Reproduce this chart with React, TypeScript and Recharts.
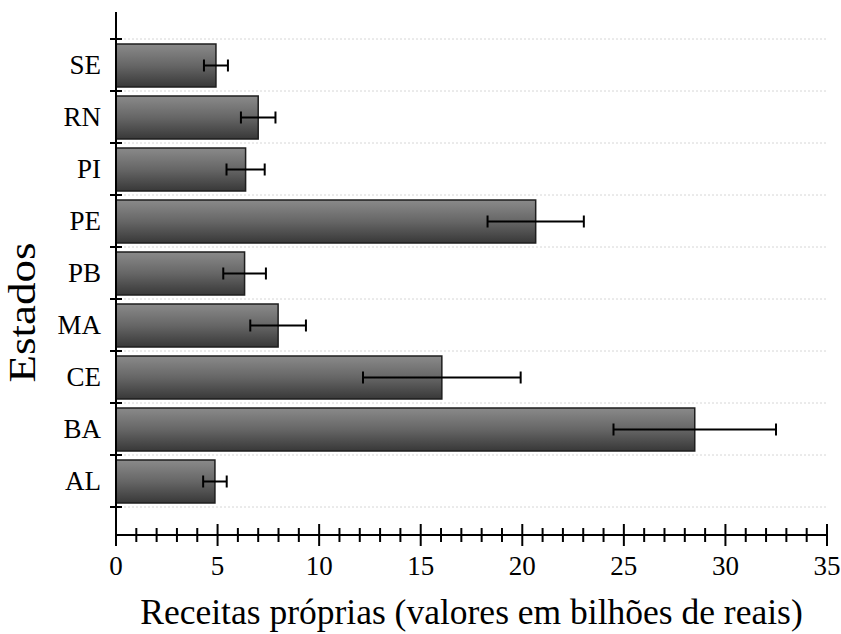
import { BarChart, Bar, XAxis, YAxis, ErrorBar, ReferenceLine } from 'recharts';

const states = ['SE', 'RN', 'PI', 'PE', 'PB', 'MA', 'CE', 'BA', 'AL'];
const receitas = [4.92, 7.0, 6.38, 20.66, 6.33, 7.98, 16.04, 28.49, 4.87];
const desvios = [0.59, 0.85, 0.94, 2.37, 1.05, 1.37, 3.88, 4.0, 0.58];
const majorTicks = [0, 5, 10, 15, 20, 25, 30, 35];
const allTicks = [
  0, 1, 2, 3, 4, 5, 6, 7, 8, 9, 10, 11, 12, 13, 14, 15, 16, 17,
  18, 19, 20, 21, 22, 23, 24, 25, 26, 27, 28, 29, 30, 31, 32, 33, 34, 35,
];

const data = states.map((s, i) => ({ estado: s, valor: receitas[i], erro: desvios[i] }));

const FONT = '"Liberation Serif", "Times New Roman", serif';

// ticks that cross the axis line, labels only on the major ones
const XTick = ({ x, y, payload }: any) => {
  const major = majorTicks.includes(payload.value);
  const len = major ? 11 : 7;
  return (
    <g>
      <line x1={x} x2={x} y1={y - len} y2={y + len} stroke="#000" strokeWidth={2} />
      {major && (
        <text x={x} y={y + 40} textAnchor="middle" fontSize={27} fontFamily={FONT} fill="#000">
          {payload.value}
        </text>
      )}
    </g>
  );
};

// category labels in the middle, tick marks on the band edges
const YTick = ({ x, y, payload, index, visibleTicksCount }: any) => {
  const half = payload.offset || 26;
  const last = index === visibleTicksCount - 1;
  return (
    <g>
      <line x1={x - 6} x2={x + 6} y1={y - half} y2={y - half} stroke="#000" strokeWidth={2} />
      {last && <line x1={x - 6} x2={x + 6} y1={y + half} y2={y + half} stroke="#000" strokeWidth={2} />}
      <text x={x - 15} y={y + 9} textAnchor="end" fontSize={27} fontFamily={FONT} fill="#000">
        {payload.value}
      </text>
    </g>
  );
};

const YLabel = ({ viewBox }: any) => {
  const cx = 35;
  const cy = viewBox.y + viewBox.height / 2 + 39;
  return (
    <text
      x={cx}
      y={cy}
      transform={`rotate(-90, ${cx}, ${cy})`}
      textAnchor="middle"
      fontSize={37}
      textLength={140}
      lengthAdjust="spacingAndGlyphs"
      fontFamily={FONT}
      fill="#000"
    >
      Estados
    </text>
  );
};

export default function App() {
  return (
    <div style={{ position: 'absolute', left: 0, top: 0, background: '#fff' }}>
      <BarChart
        width={841}
        height={634}
        data={data}
        layout="vertical"
        margin={{ top: 12, right: 14, left: 0, bottom: 0 }}
      >
        <defs>
          <linearGradient id="barFill" x1="0" y1="0" x2="0" y2="1">
            <stop offset="0%" stopColor="#8a8a8a" />
            <stop offset="50%" stopColor="#666666" />
            <stop offset="100%" stopColor="#383838" />
          </linearGradient>
        </defs>
        {states.map((s) => (
          <ReferenceLine
            key={s}
            y={s}
            position="start"
            stroke="#d6d6d6"
            strokeDasharray="2 2"
            ifOverflow="visible"
          />
        ))}
        <ReferenceLine
          y={states[states.length - 1]}
          position="end"
          stroke="#d6d6d6"
          strokeDasharray="2 2"
          ifOverflow="visible"
        />
        <XAxis
          type="number"
          domain={[0, 35]}
          ticks={allTicks}
          interval={0}
          height={99}
          tickSize={0}
          tickMargin={0}
          tickLine={false}
          axisLine={{ stroke: '#000', strokeWidth: 2 }}
          tick={<XTick />}
          label={{
            value: 'Receitas próprias (valores em bilhões de reais)',
            position: 'insideBottom',
            offset: 10,
            fontSize: 35.5,
            fontFamily: FONT,
            fill: '#000',
          }}
        />
        <YAxis
          type="category"
          dataKey="estado"
          width={116}
          padding={{ top: 27, bottom: 28 }}
          interval={0}
          tickSize={0}
          tickMargin={0}
          tickLine={false}
          axisLine={{ stroke: '#000', strokeWidth: 2 }}
          tick={<YTick />}
          label={<YLabel />}
        />
        <Bar
          dataKey="valor"
          barSize={43}
          fill="url(#barFill)"
          stroke="#1e1e1e"
          strokeWidth={1.5}
          isAnimationActive={false}
        >
          <ErrorBar dataKey="erro" direction="x" width={6} stroke="#000" strokeWidth={2} />
        </Bar>
      </BarChart>
    </div>
  );
}
